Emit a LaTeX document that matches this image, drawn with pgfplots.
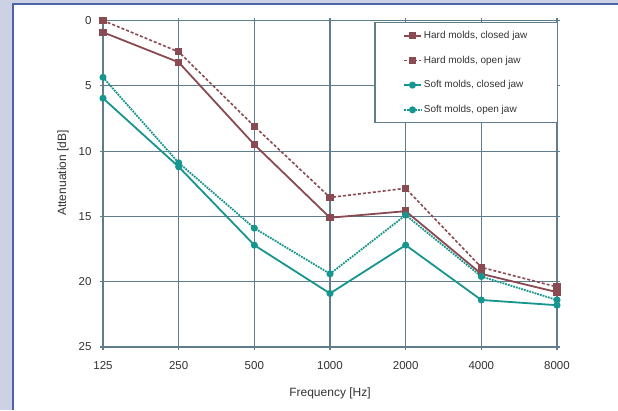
\documentclass[border=0pt]{standalone}
\usepackage{pgfplots}
\pgfplotsset{compat=1.18}
\usepackage{fontspec}
\setmainfont{Liberation Sans}
\definecolor{lav}{HTML}{CDD1E6}
\definecolor{framec}{HTML}{4F63A8}
\definecolor{gridc}{HTML}{5F7D8C}
\definecolor{brn}{HTML}{8A4A52}
\definecolor{tl}{HTML}{17958F}
\begin{document}
\begin{tikzpicture}[x=1pt,y=1pt]
\path[use as bounding box] (0,0) rectangle (618,410);
\fill[lav] (0,0) rectangle (618,410);
\fill[white] (13,0) rectangle (618,406);
\draw[framec, line width=1.3pt] (13,0) -- (13,406) -- (618,406);
\begin{axis}[
  at={(103pt,63pt)}, anchor=south west,
  width=454pt, height=326.5pt, scale only axis,
  xmin=0, xmax=6, ymin=0, ymax=25, y dir=reverse,
  xtick={0,...,6}, xticklabels={125,250,500,1000,2000,4000,8000},
  ytick={0,5,...,25},
  grid=major,
  grid style={gridc, line width=1.2pt},
  axis line style={gridc, line width=1.4pt},
  tick style={gridc, line width=1.2pt},
  tick align=outside, major tick length=3pt,
  /pgf/number format/assume math mode=true,
  tick label style={font=\fontsize{11.5}{13}\selectfont, text=black!80},
  xticklabel style={yshift=-8pt},
  yticklabel style={xshift=-5pt},
  xlabel={Frequency [Hz]},
  ylabel={Attenuation [dB]},
  label style={font=\fontsize{12}{14}\selectfont, text=black!80},
  xlabel style={at={(axis description cs:0.5,-0.141)}, anchor=center},
  ylabel style={at={(axis description cs:-0.088,0.533)}, anchor=center, rotate=0},
  legend style={at={(1.002,0.995)}, anchor=north east, draw=gridc, line width=1.2pt,
    inner xsep=28pt, inner ysep=6.5pt, row sep=12pt,
    font=\fontsize{10}{11}\selectfont, text=black!80},
  legend cell align=left,
]
\addplot[brn, line width=1.8pt, mark=square*, mark size=2.8pt, mark options={solid}]
  coordinates {(0,0.9) (1,3.2) (2,9.5) (3,15.1) (4,14.6) (5,19.4) (6,20.8)};
\addlegendentry{Hard molds, closed jaw}
\addplot[brn, line width=1.6pt, densely dashed, mark=square*, mark size=2.8pt, mark options={solid}]
  coordinates {(0,0.0) (1,2.4) (2,8.1) (3,13.55) (4,12.85) (5,18.9) (6,20.4)};
\addlegendentry{Hard molds, open jaw}
\addplot[tl, line width=1.8pt, mark=*, mark size=2.6pt, mark options={solid}]
  coordinates {(0,5.95) (1,11.2) (2,17.2) (3,20.9) (4,17.2) (5,21.4) (6,21.8)};
\addlegendentry{Soft molds, closed jaw}
\addplot[tl, line width=1.8pt, densely dotted, mark=*, mark size=2.6pt, mark options={solid}]
  coordinates {(0,4.35) (1,10.9) (2,15.9) (3,19.4) (4,14.9) (5,19.6) (6,21.4)};
\addlegendentry{Soft molds, open jaw}
\end{axis}
\end{tikzpicture}
\end{document}
